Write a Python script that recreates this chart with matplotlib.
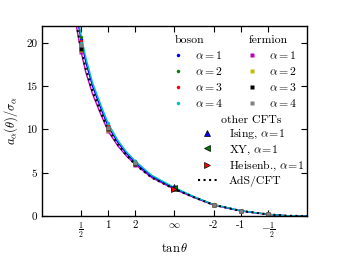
import numpy as np
import matplotlib
matplotlib.use("Agg")
import matplotlib.pyplot as plt
from matplotlib.lines import Line2D

plt.rcParams['font.family'] = 'serif'
plt.rcParams['font.serif'] = ['cmr10', 'DejaVu Serif']
plt.rcParams['mathtext.fontset'] = 'cm'
plt.rcParams['axes.unicode_minus'] = False

# tick positions (theta) and labels (tan theta)
tick_theta = [np.arctan(0.5), np.pi/4, np.arctan(2.0), np.pi/2,
              np.pi - np.arctan(2.0), 3*np.pi/4, np.pi - np.arctan(0.5)]
tick_labels = [r'$\frac{1}{2}$', '1', '2', r'$\infty$', '-2', '-1', r'$-\frac{1}{2}$']

# marker data at the tick angles
theta_pts = tick_theta
boson = {
    1: [20.4, 10.35, 6.20, 3.22, 1.32, 0.60, 0.20],
    2: [20.7, 10.55, 6.30, 3.27, 1.33, 0.61, 0.20],
    3: [20.2, 10.50, 6.32, 3.28, 1.33, 0.61, 0.20],
    4: [20.0, 10.70, 6.35, 3.30, 1.34, 0.62, 0.21],
}
fermion = {
    1: [18.9, 9.80, 5.95, 3.10, 1.28, 0.59, 0.19],
    2: [19.2, 9.95, 6.00, 3.12, 1.29, 0.59, 0.19],
    3: [19.3, 10.00, 6.05, 3.15, 1.30, 0.60, 0.20],
    4: [19.8, 10.20, 6.10, 3.17, 1.31, 0.60, 0.20],
}

# curve data
theta_line = [0.38, 0.42, 0.4636, 0.52, 0.60, 0.70, 0.785, 0.90, 1.00, 1.107,
              1.30, 1.571, 1.80, 2.034, 2.356, 2.678, 2.90, 3.1416]
ads = [24.0, 21.6, 19.3, 17.0, 14.4, 11.9, 10.0, 8.25, 7.05, 5.95,
       4.45, 3.12, 2.18, 1.30, 0.60, 0.20, 0.04, 0.0]
line_b1 = [25.6, 22.8, 20.4, 17.8, 15.0, 12.4, 10.35, 8.50, 7.25, 6.15,
           4.60, 3.22, 2.22, 1.32, 0.60, 0.20, 0.04, 0.0]
line_b4 = [26.3, 23.4, 20.9, 18.3, 15.4, 12.8, 10.70, 8.75, 7.45, 6.35,
           4.72, 3.30, 2.26, 1.34, 0.62, 0.21, 0.04, 0.0]
line_f1 = [23.9, 21.3, 19.0, 16.6, 14.1, 11.7, 9.80, 8.10, 6.95, 5.95,
           4.45, 3.10, 2.16, 1.28, 0.59, 0.19, 0.04, 0.0]

others = {
    r'Ising, $\alpha\!=\!1$': (3.30, '^', 'b'),
    r'XY, $\alpha\!=\!1$': (3.20, '<', 'g'),
    r'Heisenb., $\alpha\!=\!1$': (3.10, '>', 'r'),
}

boson_colors = {1: 'b', 2: 'g', 3: 'r', 4: 'c'}
fermion_colors = {1: 'm', 2: 'y', 3: 'k', 4: 'gray'}

fig = plt.figure(figsize=(3.41, 2.56), dpi=100)
ax = fig.add_axes([0.123, 0.156, 0.777, 0.744])

ax.plot(theta_line, line_f1, '-', color='m', lw=1.0)
ax.plot(theta_line, line_b1, '-', color='b', lw=1.0)
ax.plot(theta_line, line_b4, '-', color='c', lw=1.0)
ax.plot(theta_line, ads, ':', color='k', lw=1.5)

bh = []
for a in (1, 2, 3, 4):
    ax.plot(theta_pts, boson[a], 'o', color=boson_colors[a], ms=2.5, mec='none')
    bh.append(Line2D([], [], ls='none', marker='o', color=boson_colors[a], ms=2.5, mec='none',
                     label=r'$\alpha=%d$' % a))
fh = []
for a in (1, 2, 3, 4):
    ax.plot(theta_pts, fermion[a], 's', color=fermion_colors[a], ms=2.5, mec='none')
    fh.append(Line2D([], [], ls='none', marker='s', color=fermion_colors[a], ms=2.5, mec='none',
                     label=r'$\alpha=%d$' % a))
oh = []
for lab, (v, m, c) in others.items():
    ax.plot([np.pi/2], [v], m, color=c, ms=4, mec='k', mew=0.5)
    oh.append(Line2D([], [], ls='none', marker=m, color=c, ms=4, mec='k', mew=0.5, label=lab))
oh.append(Line2D([], [], ls=':', color='k', lw=1.5, label='AdS/CFT'))

ax.set_xlim(0, np.pi)
ax.set_ylim(0, 22)
ax.set_xticks(tick_theta)
ax.set_xticklabels(tick_labels)
ax.set_yticks([0, 5, 10, 15, 20])
ax.tick_params(direction='in', top=True, right=True, labelsize=8, length=4, width=0.8)
ax.tick_params(axis='x', pad=3)
for s in ax.spines.values():
    s.set_linewidth(1.0)
ax.set_xlabel(r'$\tan\theta$', fontsize=9, labelpad=2)
ax.set_ylabel(r'$a_\alpha(\theta)/\sigma_\alpha$', fontsize=9)

common = dict(frameon=False, fontsize=8.5, handlelength=0.6, handletextpad=1.1,
              labelspacing=0.34, title_fontsize=8.5, borderpad=0.2)
l1 = ax.legend(handles=bh, title='boson', loc='upper left',
               bbox_to_anchor=(0.47, 0.99), alignment='left', **common)
ax.add_artist(l1)
l2 = ax.legend(handles=fh, title='fermion', loc='upper left',
               bbox_to_anchor=(0.75, 0.99), alignment='left', **common)
ax.add_artist(l2)
common3 = dict(common)
common3['handlelength'] = 1.6
common3['handletextpad'] = 1.05
common3['labelspacing'] = 0.2
l3 = ax.legend(handles=oh, title='other CFTs', loc='upper left',
               bbox_to_anchor=(0.557, 0.57), **common3)

fig.savefig('out.png', dpi=100)
